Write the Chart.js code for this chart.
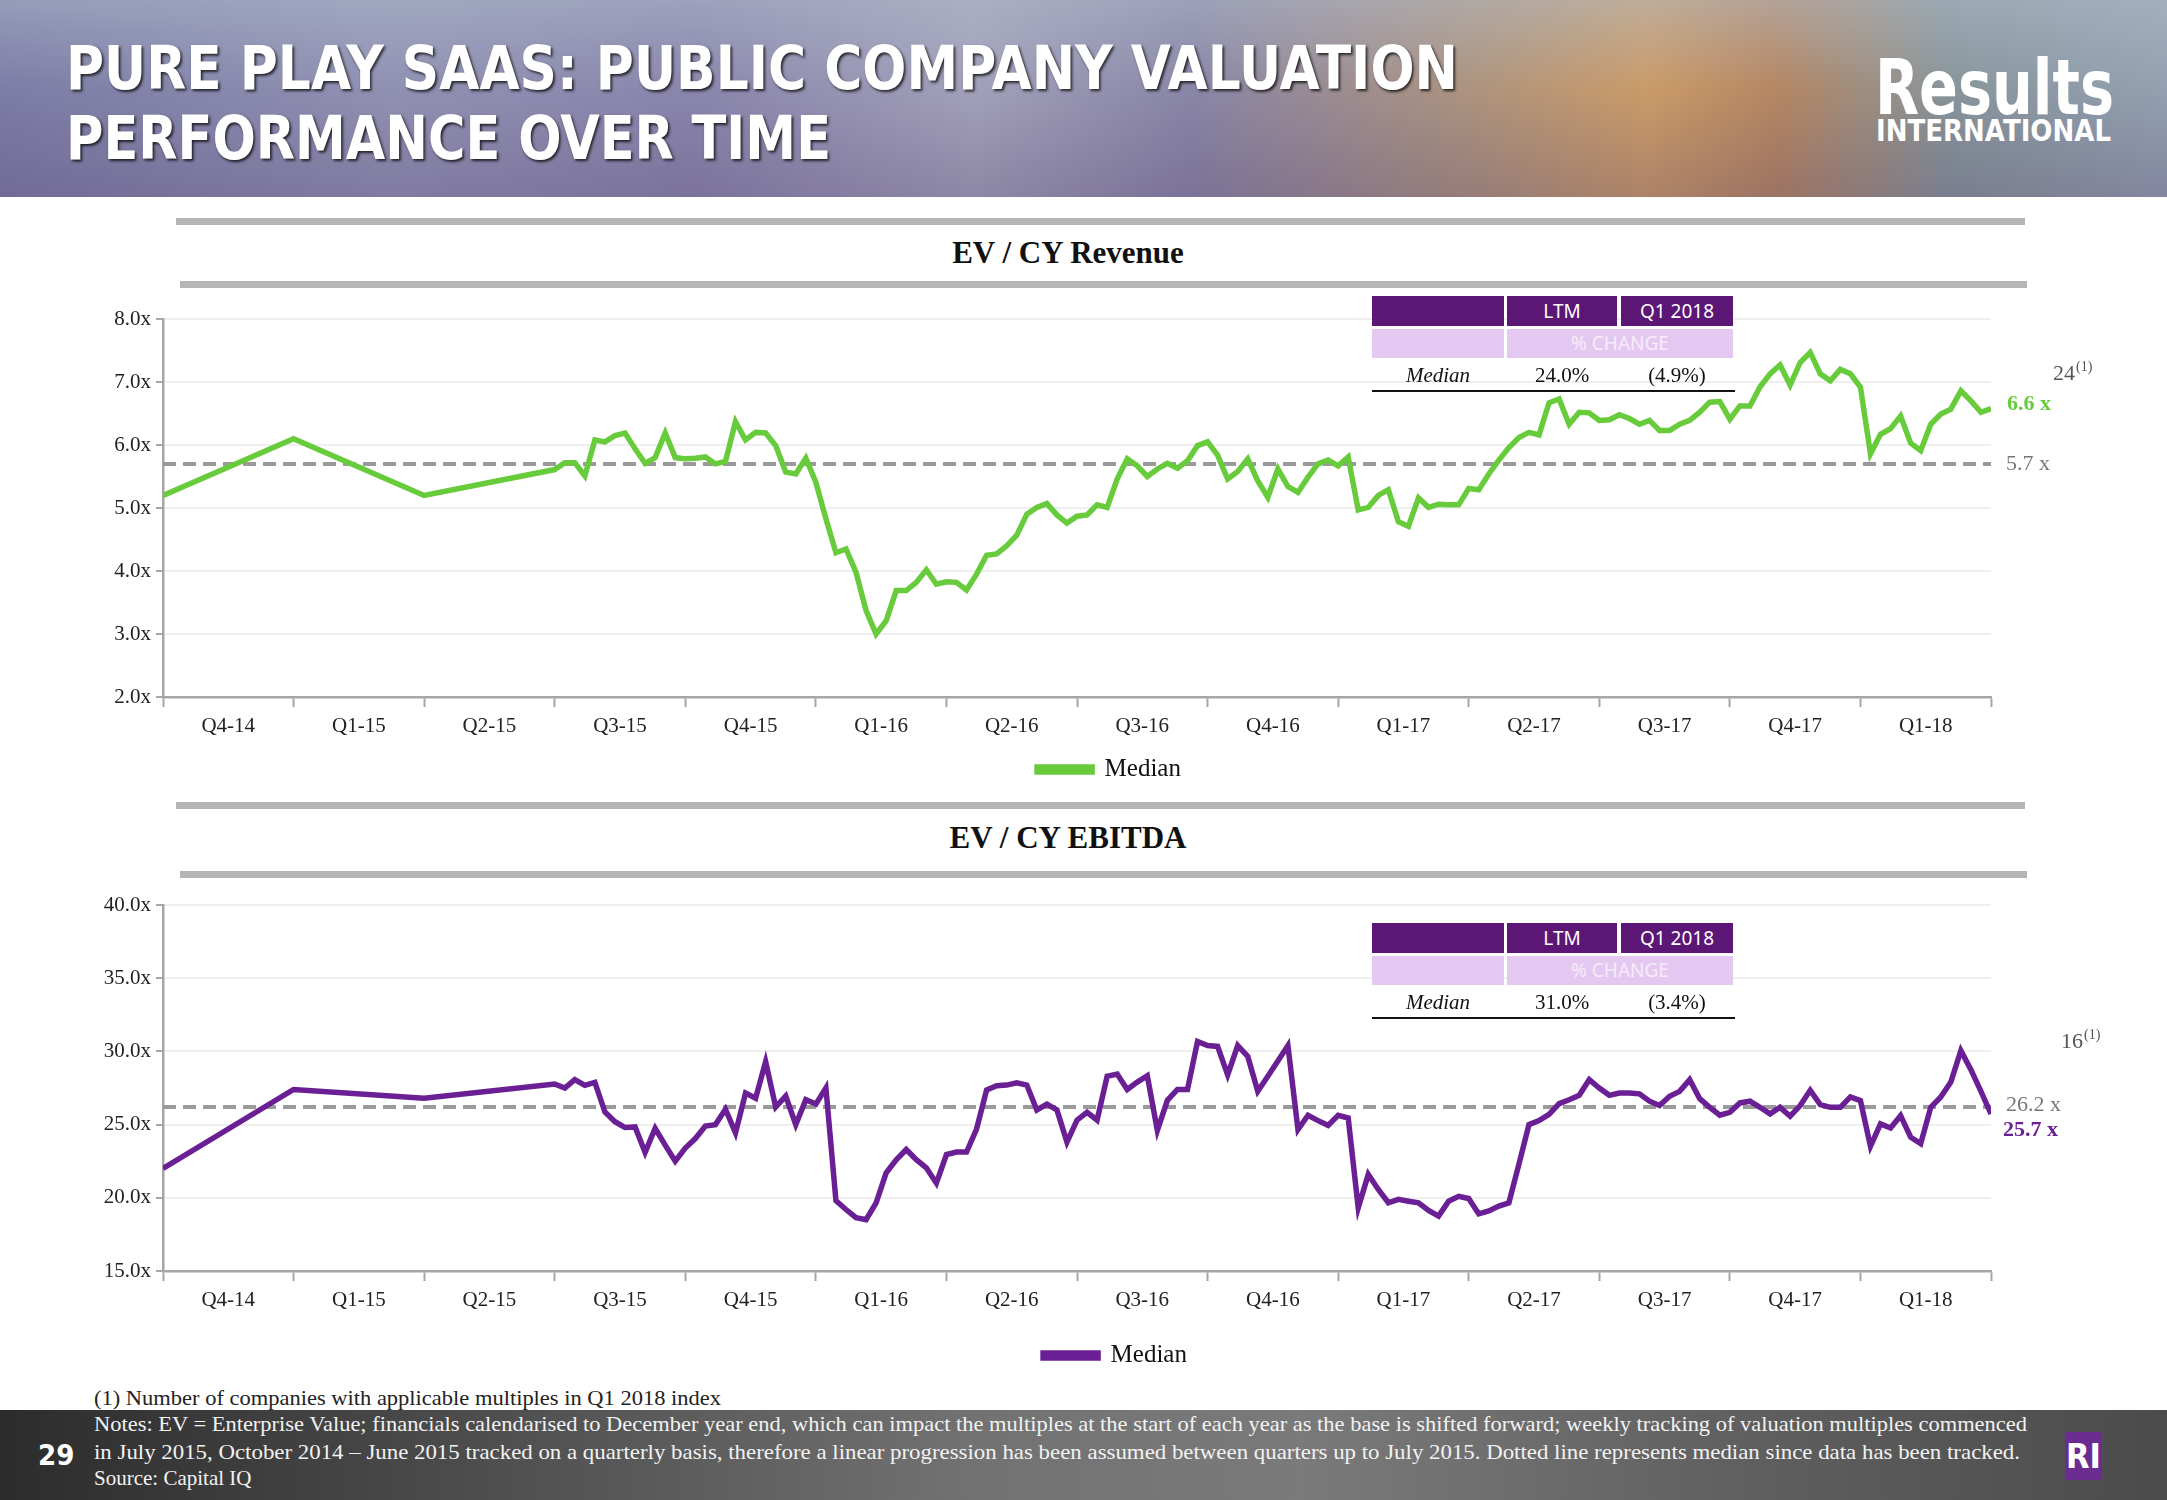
<!DOCTYPE html>
<html lang="en">
<head>
<meta charset="utf-8">
<title>Pure Play SaaS valuation</title>
<script src="https://cdn.jsdelivr.net/npm/chart.js@4.4.1/dist/chart.umd.min.js"></script>
<style>
body {margin:0; width:2167px; height:1500px; position:relative; overflow:hidden; background:#fff; font-family:"Liberation Serif", serif;}
.abs {position:absolute;}
#banner {left:0; top:0; width:2167px; height:197px;
  background:
    linear-gradient(to bottom, rgba(170,180,200,0.55) 0%, rgba(120,110,160,0.15) 45%, rgba(90,70,120,0.35) 100%),
    linear-gradient(to right, #7d7fa6 0%, #9597b6 18%, #8d8aae 32%, #a9a9be 45%, #8c8aa8 55%, #b79a78 68%, #d9a35e 76%, #c08b58 82%, #8a9c9a 90%, #98a9b4 100%);}
.title {left:66px; color:#fff; font-family:"DejaVu Sans", sans-serif; font-weight:bold; font-size:60px; line-height:60px; white-space:nowrap;
  text-shadow:2px 2px 3px rgba(0,0,0,0.75); transform-origin:left top;}
.logo {color:#fff; font-family:"DejaVu Sans", sans-serif; font-weight:bold; white-space:nowrap; transform-origin:left top;}
.bar {background:#b5b5b5; height:7px;}
.ctitle {font-weight:bold; font-size:31px; color:#111; white-space:nowrap; transform:translateX(-50%);}
.cell {font-family:"Noto Sans", sans-serif; font-size:19px; text-align:center; box-sizing:border-box;}
.dark {background:#5c1676; color:#fff;}
.light {background:#e5c8f1; color:#f6ecfa;}
.med {font-size:21px; color:#111; text-align:center;}
.fit {white-space:nowrap; transform-origin:left top;}
#footer {left:0; top:1410px; width:2167px; height:90px;
  background:linear-gradient(to right, #2c2c2c 0%, #4a4a4a 20%, #727272 45%, #7a7a7a 60%, #606060 80%, #4b4b4b 100%);}
.note {color:#f2f2f2; font-size:21px;}
</style>
</head>
<body>

<div id="banner" class="abs"></div>
<div class="abs title fit" data-w="1392" style="top:38px">PURE PLAY SAAS: PUBLIC COMPANY VALUATION</div>
<div class="abs title fit" data-w="765" style="top:108px">PERFORMANCE OVER TIME</div>
<div class="abs logo fit" data-w="239" style="left:1875px; top:50px; font-size:76px; line-height:76px;">Results</div>
<div class="abs logo fit" data-w="235" style="left:1876px; top:115px; font-size:31px; line-height:31px;">INTERNATIONAL</div>

<div class="abs bar" style="left:176px; top:218px; width:1849px"></div>
<div class="abs ctitle" style="left:1068px; top:235px">EV / CY Revenue</div>
<div class="abs bar" style="left:180px; top:281px; width:1847px"></div>

<div class="abs" style="left:0; top:300px; width:2167px; height:492px"><canvas id="revChart"></canvas></div>

<div class="abs bar" style="left:176px; top:802px; width:1849px"></div>
<div class="abs ctitle" style="left:1068px; top:820px">EV / CY EBITDA</div>
<div class="abs bar" style="left:180px; top:871px; width:1847px"></div>

<div class="abs" style="left:0; top:880px; width:2167px; height:498px"><canvas id="ebitdaChart"></canvas></div>

<div id="revTable"></div>
<div id="ebitdaTable"></div>

<div class="abs fit" data-w="627" style="left:94px; top:1386px; font-size:21px; color:#222">(1) Number of companies with applicable multiples in Q1 2018 index</div>
<div id="footer" class="abs"></div>
<div class="abs note fit" data-w="1933" style="left:94px; top:1412px">Notes: EV = Enterprise Value; financials calendarised to December year end, which can impact the multiples at the start of each year as the base is shifted forward; weekly tracking of valuation multiples commenced</div>
<div class="abs note fit" data-w="1926" style="left:94px; top:1440px">in July 2015, October 2014 – June 2015 tracked on a quarterly basis, therefore a linear progression has been assumed between quarters up to July 2015. Dotted line represents median since data has been tracked.</div>
<div class="abs note" style="left:94px; top:1466px">Source: Capital IQ</div>
<div class="abs" style="left:38px; top:1438px; color:#fff; font-family:'DejaVu Sans Condensed','DejaVu Sans',sans-serif; font-weight:bold; font-size:29px">29</div>
<div class="abs" style="left:2065px; top:1432px; width:37px; height:48px; background:#6b2c91; color:#fff; font-family:'DejaVu Sans Condensed','DejaVu Sans',sans-serif; font-weight:bold; font-size:34px; line-height:48px; text-align:center">RI</div>

<script>
// quarter labels, each centred inside its quarter
const quarterLabels = ['Q4-14', 'Q1-15', 'Q2-15', 'Q3-15', 'Q4-15', 'Q1-16', 'Q2-16', 'Q3-16', 'Q4-16', 'Q1-17', 'Q2-17', 'Q3-17', 'Q4-17', 'Q1-18'];

// EV / CY Revenue: quarterly points (Oct-14, Jan-15, Apr-15) then weekly from July 2015
const revQuarterly = [5.2, 6.1, 5.2];
const revWeekly = [
  5.61, 5.72, 5.72, 5.51, 6.08, 6.05, 6.15, 6.19, 5.94, 5.71, 5.80, 6.19, 5.80,
  5.78, 5.79, 5.81, 5.70, 5.74, 6.37, 6.08, 6.20, 6.19, 5.99, 5.57, 5.54, 5.79,
  5.41, 4.83, 4.29, 4.35, 3.98, 3.37, 3.00, 3.21, 3.69, 3.69, 3.82, 4.02, 3.79,
  3.83, 3.82, 3.70, 3.95, 4.25, 4.27, 4.40, 4.57, 4.90, 5.01, 5.07, 4.89, 4.76,
  4.87, 4.89, 5.05, 5.01, 5.46, 5.78, 5.67, 5.50, 5.62, 5.71, 5.63, 5.75, 5.99,
  6.05, 5.84, 5.46, 5.58, 5.78, 5.43, 5.17, 5.62, 5.34, 5.25, 5.49, 5.70, 5.76,
  5.67, 5.81, 4.97, 5.01, 5.20, 5.29, 4.78, 4.71, 5.16, 5.01, 5.06, 5.05, 5.05,
  5.31, 5.29, 5.54, 5.76, 5.96, 6.12, 6.20, 6.16, 6.67, 6.73, 6.33, 6.52, 6.51,
  6.39, 6.40, 6.48, 6.42, 6.33, 6.39, 6.23, 6.23, 6.33, 6.39, 6.52, 6.68, 6.69,
  6.41, 6.62, 6.62, 6.92, 7.13, 7.27, 6.95, 7.31, 7.47, 7.13, 7.02, 7.20, 7.13,
  6.92, 5.86, 6.17, 6.26, 6.46, 6.03, 5.91, 6.33, 6.49, 6.57, 6.86, 6.70, 6.52,
  6.58
];
const revMedian = 5.7;
const revYTicks = [2, 3, 4, 5, 6, 7, 8];
const revTableValues = ['24.0%', '(4.9%)'];
const revCount = '24';

// EV / CY EBITDA
const ebitdaQuarterly = [22.0, 27.4, 26.8];
const ebitdaWeekly = [
  27.77, 27.50, 28.07, 27.68, 27.89, 25.86, 25.20, 24.80, 24.84, 23.10, 24.75, 23.60, 22.50,
  23.40, 24.05, 24.90, 25.00, 26.05, 24.43, 27.16, 26.80, 29.30, 26.20, 26.95, 25.00, 26.70,
  26.40, 27.50, 19.80, 19.20, 18.64, 18.50, 19.66, 21.70, 22.60, 23.30, 22.60, 22.05, 21.00,
  22.95, 23.13, 23.13, 24.70, 27.36, 27.66, 27.70, 27.86, 27.70, 26.00, 26.40, 26.00, 23.80,
  25.30, 25.84, 25.30, 28.30, 28.45, 27.40, 27.90, 28.34, 24.60, 26.66, 27.40, 27.40, 30.68,
  30.40, 30.34, 28.40, 30.40, 29.66, 27.27, 28.30, 29.35, 30.40, 24.66, 25.64, 25.27, 24.95,
  25.64, 25.45, 19.32, 21.60, 20.57, 19.66, 19.89, 19.77, 19.66, 19.14, 18.75, 19.77, 20.10,
  19.95, 18.90, 19.10, 19.43, 19.66, 22.30, 25.00, 25.27, 25.70, 26.43, 26.70, 27.00, 28.07,
  27.50, 27.00, 27.16, 27.16, 27.10, 26.60, 26.30, 26.93, 27.27, 28.07, 26.77, 26.18, 25.64,
  25.84, 26.48, 26.60, 26.18, 25.73, 26.18, 25.57, 26.30, 27.34, 26.36, 26.18, 26.18, 26.89,
  26.64, 23.52, 25.05, 24.77, 25.61, 24.14, 23.70, 26.18, 26.89, 27.90, 30.05, 28.75, 27.27,
  25.73
];
const ebitdaMedian = 26.2;
const ebitdaYTicks = [15, 20, 25, 30, 35, 40];
const ebitdaTableValues = ['31.0%', '(3.4%)'];
const ebitdaCount = '16';

const WEEKS_PER_QUARTER = 13;
const WEEKLY_START = 3; // July 2015 = start of Q3-15

function buildSeries(quarterly, weekly) {
  var pts = quarterly.map(function (v, i) { return {x: i, y: v}; });
  weekly.forEach(function (v, i) { pts.push({x: WEEKLY_START + i / WEEKS_PER_QUARTER, y: v}); });
  return pts;
}

// labels on the right of the plot (series end, median, company count)
// + nudges the legend sideways like on the slide
const sideLabels = {
  id: 'sideLabels',
  beforeDraw: function (chart, args, opts) {
    if (chart.legend) {
      chart.legend.left = chart.chartArea.left + opts.legendShift;
      chart.legend.right = chart.chartArea.right + opts.legendShift;
    }
  },
  afterDraw: function (chart, args, opts) {
    var c = chart.ctx, y = chart.scales.y, right = chart.chartArea.right;
    c.save();
    c.textBaseline = 'middle';
    opts.items.forEach(function (it) {
      c.font = (it.bold ? 'bold ' : '') + '22px "Liberation Serif"';
      c.fillStyle = it.color;
      var py = y.getPixelForValue(it.pos);
      c.fillText(it.text, right + it.dx, py);
      if (it.sup) {
        var w = c.measureText(it.text).width;
        c.font = '14px "Liberation Serif"';
        c.fillText(it.sup, right + it.dx + w + 1, py - 7);
      }
    });
    c.restore();
  }
};

function makeChart(id, color, points, median, yTicks, xAxisHeight, padTop, legendShift, labels) {
  var lastX = quarterLabels.length;
  return new Chart(document.getElementById(id), {
    type: 'line',
    data: {
      datasets: [{
        label: 'Median',
        data: points,
        borderColor: color,
        backgroundColor: color,
        borderWidth: 5.5,
        pointRadius: 0,
        tension: 0
      }, {
        label: 'median-line',
        data: [{x: 0, y: median}, {x: lastX, y: median}],
        borderColor: '#9a9a9a',
        borderWidth: 4,
        borderDash: [13, 7],
        pointRadius: 0
      }]
    },
    options: {
      responsive: true,
      maintainAspectRatio: false,
      animation: false,
      layout: {padding: {left: 0, right: 176, top: padTop, bottom: 0}},
      plugins: {
        tooltip: {enabled: false},
        legend: {
          position: 'bottom',
          fullSize: false,
          labels: {
            filter: function (item) { return item.datasetIndex === 0; },
            boxWidth: 55,
            boxHeight: 5,
            padding: 10,
            color: '#111',
            font: {family: '"Liberation Serif"', size: 25}
          }
        },
        sideLabels: {items: labels, legendShift: legendShift}
      },
      scales: {
        x: {
          type: 'linear',
          min: 0,
          max: lastX,
          afterFit: function (s) { s.height = xAxisHeight; },
          afterBuildTicks: function (s) {
            var t = [];
            for (var v = 0; v <= lastX; v += 0.5) t.push({value: v});
            s.ticks = t;
          },
          ticks: {
            autoSkip: false,
            maxRotation: 0,
            padding: 7,
            color: '#222',
            font: {family: '"Liberation Serif"', size: 21},
            callback: function (v) {
              return (v % 1 === 0.5) ? quarterLabels[Math.floor(v)] : '';
            }
          },
          grid: {
            drawOnChartArea: false,
            tickLength: 10,
            tickWidth: 2,
            tickColor: function (ctx) { return (ctx.tick && ctx.tick.value % 1 === 0) ? '#a6a6a6' : 'rgba(0,0,0,0)'; }
          },
          border: {color: '#a6a6a6', width: 2.5}
        },
        y: {
          min: yTicks[0],
          max: yTicks[yTicks.length - 1],
          afterFit: function (s) { s.width = 163; },
          ticks: {
            stepSize: yTicks[1] - yTicks[0],
            padding: 5,
            color: '#222',
            font: {family: '"Liberation Serif"', size: 21},
            callback: function (v) { return v.toFixed(1) + 'x'; }
          },
          grid: {color: '#efefef', lineWidth: 2, tickLength: 7, tickColor: '#a6a6a6', tickWidth: 2},
          border: {color: '#a6a6a6', width: 2.5}
        }
      }
    },
    plugins: [sideLabels]
  });
}

makeChart('revChart', '#67cb3c', buildSeries(revQuarterly, revWeekly), revMedian, revYTicks, 50, 19, 32, [
  {text: revCount, sup: '(1)', pos: 7.12, color: '#555', dx: 62},
  {text: '6.6 x', pos: 6.64, color: '#67cb3c', bold: true, dx: 16},
  {text: '5.7 x', pos: revMedian, color: '#777', dx: 15}
]);

makeChart('ebitdaChart', '#6b1f94', buildSeries(ebitdaQuarterly, ebitdaWeekly), ebitdaMedian, ebitdaYTicks, 62, 25, 38, [
  {text: ebitdaCount, sup: '(1)', pos: 30.6, color: '#555', dx: 70},
  {text: '26.2 x', pos: 26.3, color: '#777', dx: 15},
  {text: '25.7 x', pos: 24.6, color: '#6b1f94', bold: true, dx: 12}
]);

// small % change tables
function buildTable(holderId, top, values) {
  var h = document.getElementById(holderId);
  var cells = [
    ['dark', 1372, top, 132, 30, ''],
    ['dark', 1507, top, 110, 30, 'LTM'],
    ['dark', 1621, top, 112, 30, 'Q1 2018'],
    ['light', 1372, top + 33, 132, 29, ''],
    ['light', 1507, top + 33, 226, 29, '% CHANGE']
  ];
  cells.forEach(function (c) {
    var d = document.createElement('div');
    d.className = 'abs cell ' + c[0];
    d.style.cssText = 'left:' + c[1] + 'px;top:' + c[2] + 'px;width:' + c[3] + 'px;height:' + c[4] + 'px;line-height:' + c[4] + 'px';
    d.textContent = c[5];
    h.appendChild(d);
  });
  var row = [['Median', 1372, 132, true], [values[0], 1507, 110, false], [values[1], 1621, 112, false]];
  row.forEach(function (r) {
    var d = document.createElement('div');
    d.className = 'abs med';
    d.style.cssText = 'left:' + r[1] + 'px;top:' + (top + 64) + 'px;width:' + r[2] + 'px;line-height:30px;' + (r[3] ? 'font-style:italic' : '');
    d.textContent = r[0];
    h.appendChild(d);
  });
  var line = document.createElement('div');
  line.className = 'abs';
  line.style.cssText = 'left:1372px;top:' + (top + 94) + 'px;width:363px;height:2px;background:#111';
  h.appendChild(line);
}
buildTable('revTable', 296, revTableValues);
buildTable('ebitdaTable', 923, ebitdaTableValues);

// stretch / squeeze text blocks to the widths of the original slide
document.querySelectorAll('.fit').forEach(function (el) {
  el.style.display = 'inline-block';
  var w = el.getBoundingClientRect().width;
  var target = parseFloat(el.getAttribute('data-w'));
  if (w > 0) el.style.transform = 'scaleX(' + (target / w) + ')';
});
</script>
</body>
</html>
